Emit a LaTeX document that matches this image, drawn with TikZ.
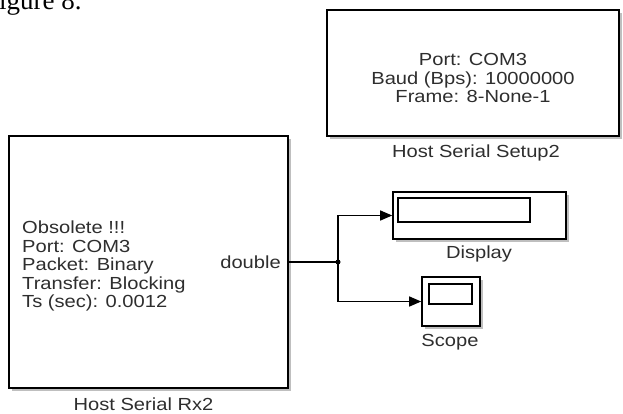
\documentclass[tikz,border=0pt]{standalone}
\usepackage{fontspec}
\setmainfont{Liberation Sans}
\newfontfamily\wfont[FakeStretch=1.15]{Liberation Sans}
\newfontfamily\serfont{Liberation Serif}
\usetikzlibrary{arrows.meta,shadows}
\definecolor{txt}{HTML}{2E2E2E}
\begin{document}
\begin{tikzpicture}[x=1pt,y=-1pt,
  blk/.style={draw=black, line width=1.6pt, fill=white, inner sep=0pt,
    drop shadow={shadow xshift=2.5pt, shadow yshift=-2.5pt, fill=black!50}},
  inbox/.style={draw=black, line width=1.3pt, inner sep=0pt},
  lbl/.style={text=txt, font=\wfont\fontsize{17.5}{17.5}\selectfont, inner sep=0pt},
  body/.style={text=txt, font=\wfont\fontsize{17.5}{18.5}\selectfont, inner sep=0pt},
  wire/.style={line width=1.3pt, draw=black},
  arr/.style={wire, -{Triangle[length=12pt,width=10pt]}}
]
\useasboundingbox (0,0) rectangle (623,413);
\node[font=\serfont\fontsize{27}{27}\selectfont, anchor=base west, inner sep=0pt] (fig) at (-1,9) {igure 8.};
% blocks
\node[blk, minimum width=279pt, minimum height=252pt] (rx) at (148.5,262) {};
\node[blk, minimum width=292pt, minimum height=126pt] (setup) at (473,73) {};
\node[blk, minimum width=173pt, minimum height=47pt] (disp) at (479.5,215.5) {};
\node[inbox, minimum width=132pt, minimum height=24pt] (dispin) at (464,210) {};
\node[blk, minimum width=58pt, minimum height=49pt] (scope) at (451,301.5) {};
\node[inbox, minimum width=43pt, minimum height=20pt] (scopein) at (450.5,294) {};
% texts
\node[body, anchor=west, align=left] (rxtext) at (22,266) {Obsolete !!!\\Port: COM3\\Packet: Binary\\Transfer: Blocking\\Ts (sec): 0.0012};
\node[body, anchor=east] (dbl) at (281,262) {double};
\node[body, align=center] (setuptext) at (473,78) {Port: COM3\\Baud (Bps): 10000000\\Frame: 8-None-1};
% labels
\node[lbl] (rxlbl) at (143.5,404) {Host Serial Rx2};
\node[lbl] (setuplbl) at (476,153) {Host Serial Setup2};
\node[lbl] (displbl) at (479,254) {Display};
\node[lbl] (scopelbl) at (450,342) {Scope};
% wires
\coordinate (j) at (338,262);
\draw[wire] (rx.east) -- (j);
\draw[arr] (j) |- (disp.west);
\draw[arr] (j) |- (scope.west);
\fill (j) circle (2.5pt);
\end{tikzpicture}
\end{document}
